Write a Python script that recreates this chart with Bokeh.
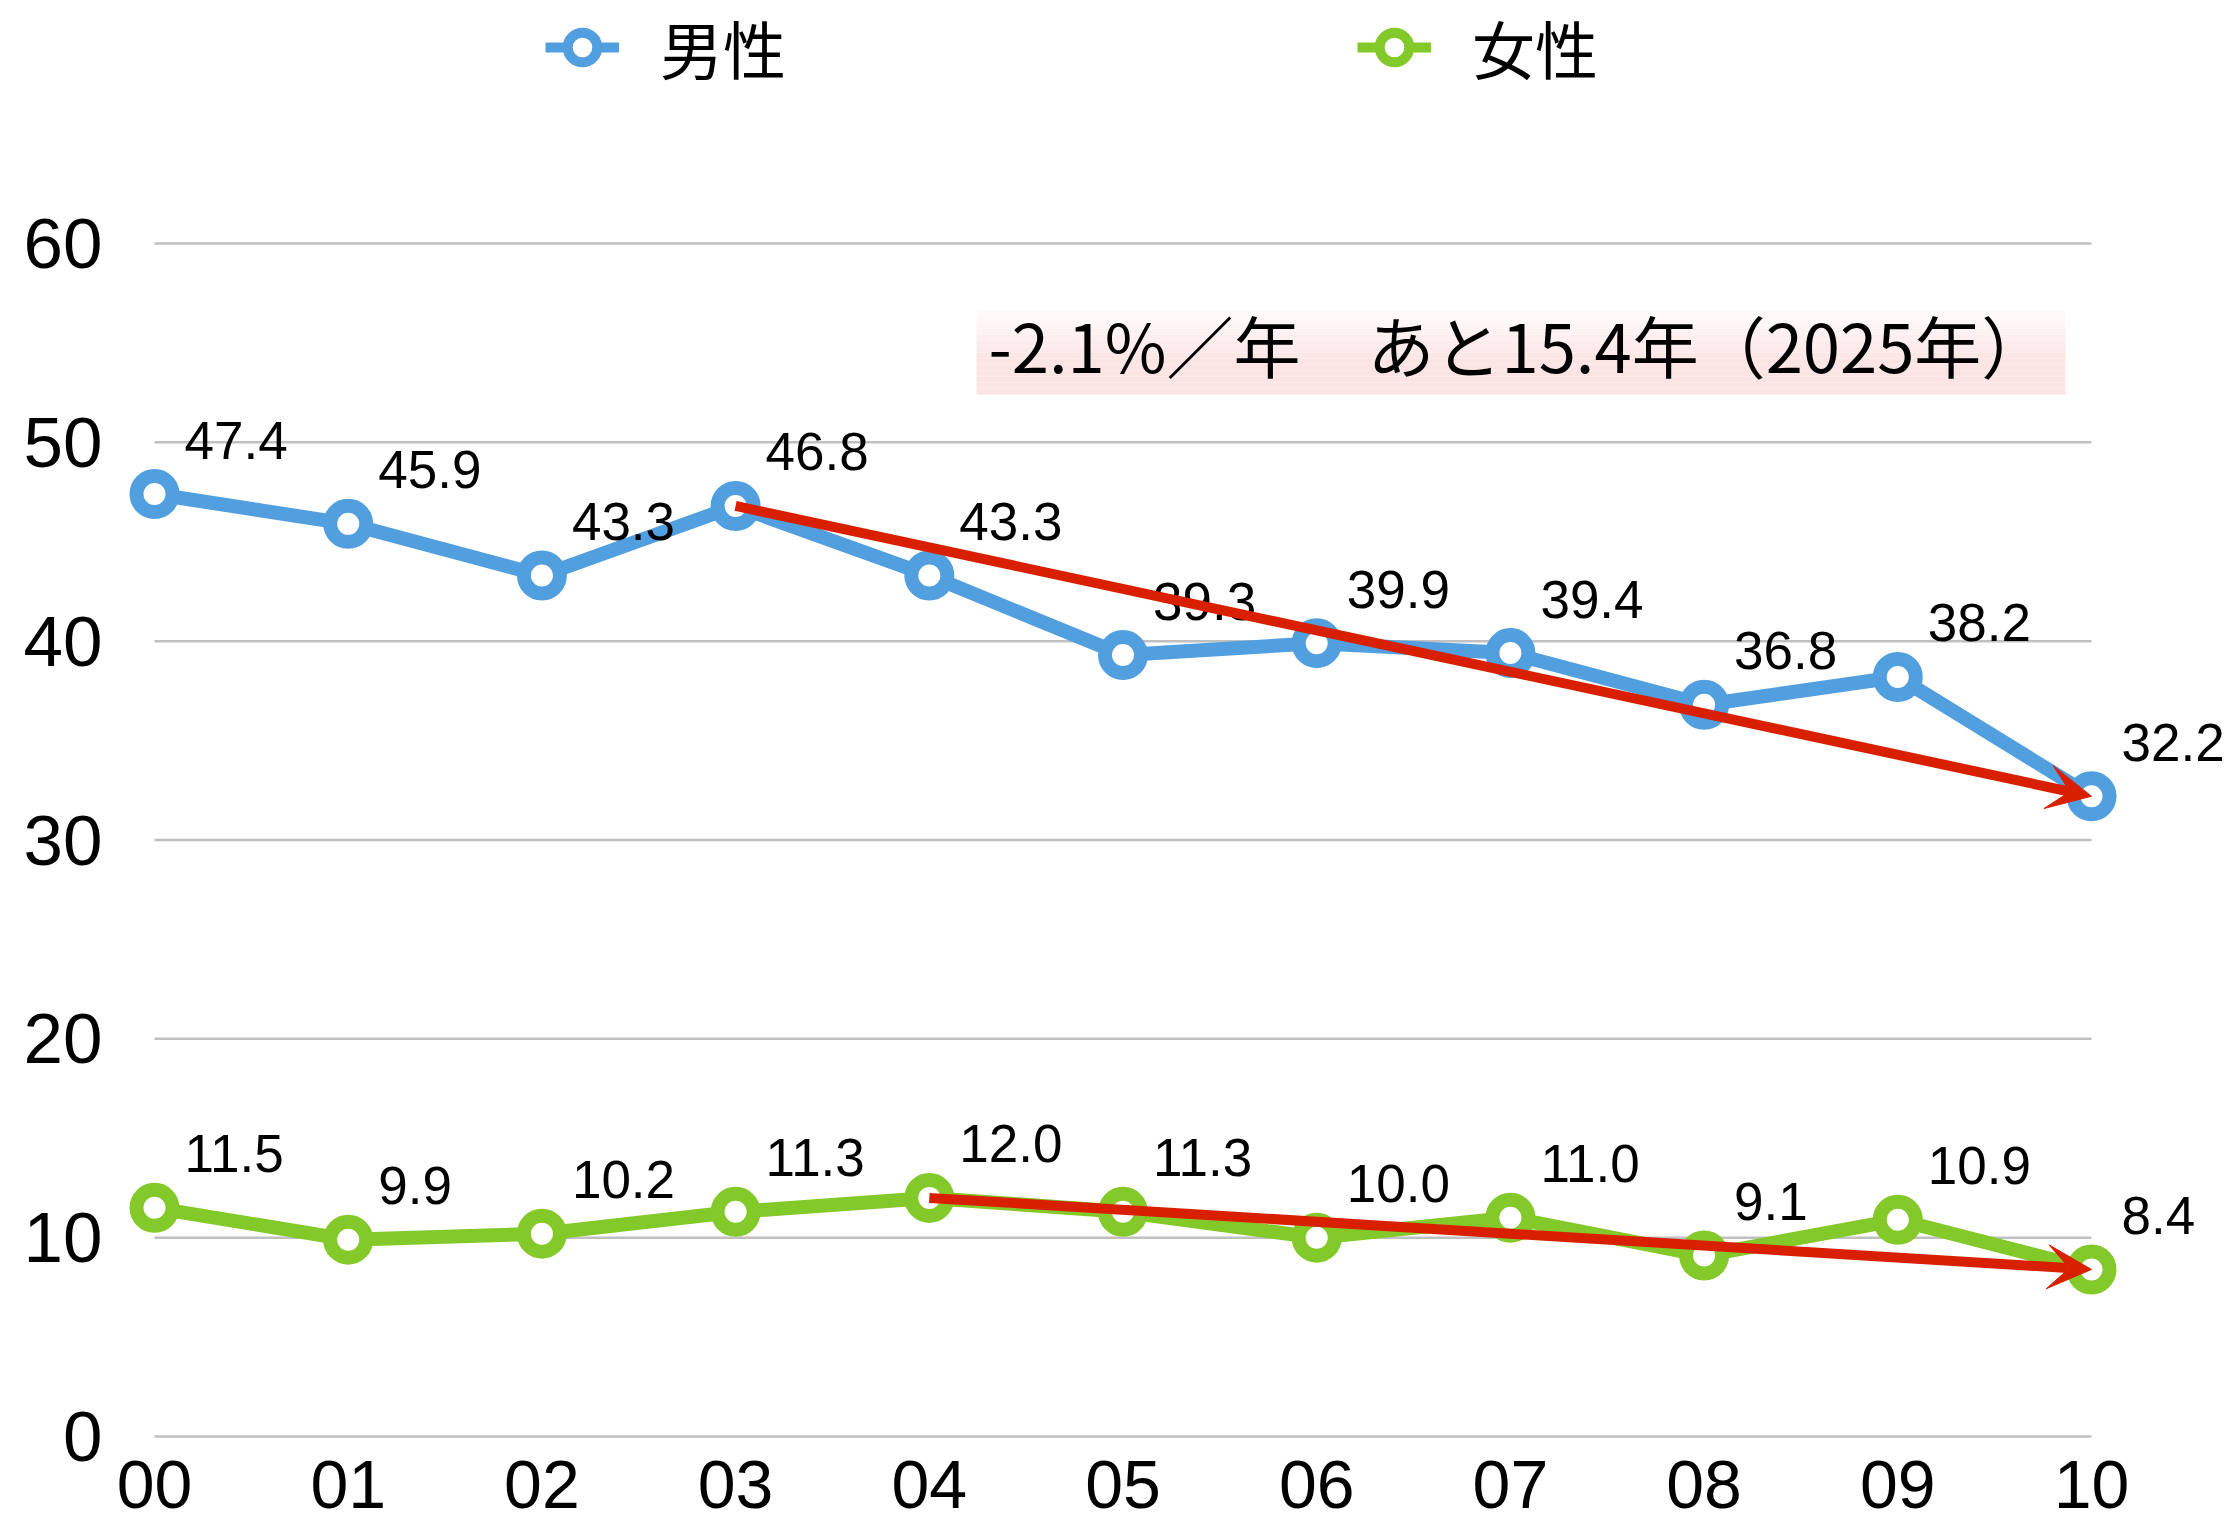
from bokeh.plotting import figure
from bokeh.models import (Range1d, FixedTicker, Legend, LegendItem, Arrow, VeeHead)
from bokeh.embed import file_html
from bokeh.resources import INLINE
from bokeh.core.properties import value
import numpy as np

# ---------------- data ----------------
years = ["00", "01", "02", "03", "04", "05", "06", "07", "08", "09", "10"]
male = [47.4, 45.9, 43.3, 46.8, 43.3, 39.3, 39.9, 39.4, 36.8, 38.2, 32.2]
female = [11.5, 9.9, 10.2, 11.3, 12.0, 11.3, 10.0, 11.0, 9.1, 10.9, 8.4]
y_ticks = [0, 10, 20, 30, 40, 50, 60]
series_names = ["男性", "女性"]
trend_note = "-2.1%／年　あと15.4年（2025年）"
male_trend_start = 3
female_trend_start = 4

# ---------------- style ----------------
BLUE = "#529FE0"
GREEN = "#84C92A"
RED = "#D82000"
GRID = "#C0C0C0"
NUM_FONT = value("Liberation Sans")
JP_FONT = value("Noto Sans CJK JP")

W, H = 2230, 1526
# pixel layout of the value axes (frame covers the whole canvas)
X0_PX, X10_PX = 154, 2091
Y0_PX, Y60_PX = 1436, 243
ux = (X10_PX - X0_PX) / 10.0
uy = (Y0_PX - Y60_PX) / 60.0
x_start = -X0_PX / ux
x_end = x_start + W / ux
y_start = -(H - Y0_PX) / uy
y_end = y_start + H / uy


def dx(px):
    return x_start + px / ux


def dy(py):
    return y_start + (H - py) / uy


xs = list(range(len(years)))

p = figure(width=W, height=H, output_backend="svg", toolbar_location=None,
           x_range=Range1d(x_start, x_end), y_range=Range1d(y_start, y_end),
           min_border_left=0, min_border_right=0,
           min_border_top=0, min_border_bottom=0)
p.outline_line_color = None
p.grid.visible = False
p.background_fill_color = "white"

# gridlines spanning the category extent
p.segment(x0=xs[0], x1=xs[-1], y0=y_ticks, y1=y_ticks, line_color=GRID, line_width=2.5)

# annotation box with soft pink gradient
bx0, bx1 = dx(976), dx(2065)
by_top, by_bot = dy(310), dy(394)
n_b = 14
edges = np.linspace(by_top, by_bot, n_b + 1)
c_top = np.array([255, 252, 252])
c_bot = np.array([252, 228, 228])
cols = []
for i in range(n_b):
    t = min(1.0, (i + 0.5) / n_b * 1.6)
    c = (c_top + (c_bot - c_top) * t).astype(int)
    cols.append("#%02x%02x%02x" % tuple(c))
p.quad(left=bx0, right=bx1, top=edges[:-1], bottom=edges[1:], fill_color=cols,
       line_color=None)
p.text(x=[dx(988)], y=[dy(343)], text=[trend_note],
       text_font=JP_FONT, text_font_size="67px", text_color="black",
       text_baseline="alphabetic", text_align="left")

# series
for vals, col in ((male, BLUE), (female, GREEN)):
    p.line(xs, vals, line_color=col, line_width=14)
    p.scatter(xs, vals, size=36, fill_color="white", line_color=col, line_width=14)
    p.text(xs, vals, text=["%.1f" % v for v in vals], x_offset=30, y_offset=-54,
           text_font=NUM_FONT, text_font_size="53px", text_color="black",
           text_baseline="alphabetic", text_align="left")

# trend arrows
for vals, s in ((male, male_trend_start), (female, female_trend_start)):
    p.add_layout(Arrow(end=VeeHead(size=44, fill_color=RED, line_color=RED, line_width=1),
                       x_start=xs[s], y_start=vals[s], x_end=xs[-1], y_end=vals[-1],
                       line_color=RED, line_width=10))

# legend (proxy renderers, not shown in the plot area)
nan = [float("nan")]
lm = p.line(nan, nan, line_color=BLUE, line_width=10)
sm = p.scatter(nan, nan, fill_color="white", line_color=BLUE, line_width=10)
lf = p.line(nan, nan, line_color=GREEN, line_width=10)
sf = p.scatter(nan, nan, fill_color="white", line_color=GREEN, line_width=10)
legend = Legend(items=[LegendItem(label=series_names[0], renderers=[lm, sm]),
                       LegendItem(label=series_names[1], renderers=[lf, sf])],
                orientation="horizontal", location=(545, H - 92),
                glyph_width=74, glyph_height=74, label_standoff=41, spacing=571,
                padding=0, margin=0, label_text_font="Noto Sans CJK JP",
                label_text_font_size="63px", label_text_color="black",
                background_fill_alpha=0, border_line_color=None)
p.add_layout(legend)

# axes (drawn inside the frame at fixed data locations)
p.yaxis.ticker = FixedTicker(ticks=y_ticks)
p.yaxis.fixed_location = xs[0]
p.yaxis.major_label_text_font = "Liberation Sans"
p.yaxis.major_label_text_font_size = "71px"
p.yaxis.major_label_text_color = "black"
p.yaxis.axis_line_color = None
p.yaxis.major_tick_line_color = None
p.yaxis.minor_tick_line_color = None
p.yaxis.major_tick_out = 0
p.yaxis.major_tick_in = 0
p.yaxis.major_label_standoff = 52

p.xaxis.ticker = FixedTicker(ticks=xs)
p.xaxis.major_label_overrides = {i: years[i] for i in xs}
p.xaxis.fixed_location = y_ticks[0]
p.xaxis.major_label_text_font = "Liberation Sans"
p.xaxis.major_label_text_font_size = "68px"
p.xaxis.major_label_text_color = "black"
p.xaxis.axis_line_color = None
p.xaxis.major_tick_line_color = None
p.xaxis.minor_tick_line_color = None
p.xaxis.major_tick_out = 0
p.xaxis.major_tick_in = 0
p.xaxis.major_label_standoff = 24

open("out.html", "w").write(file_html(p, INLINE))
